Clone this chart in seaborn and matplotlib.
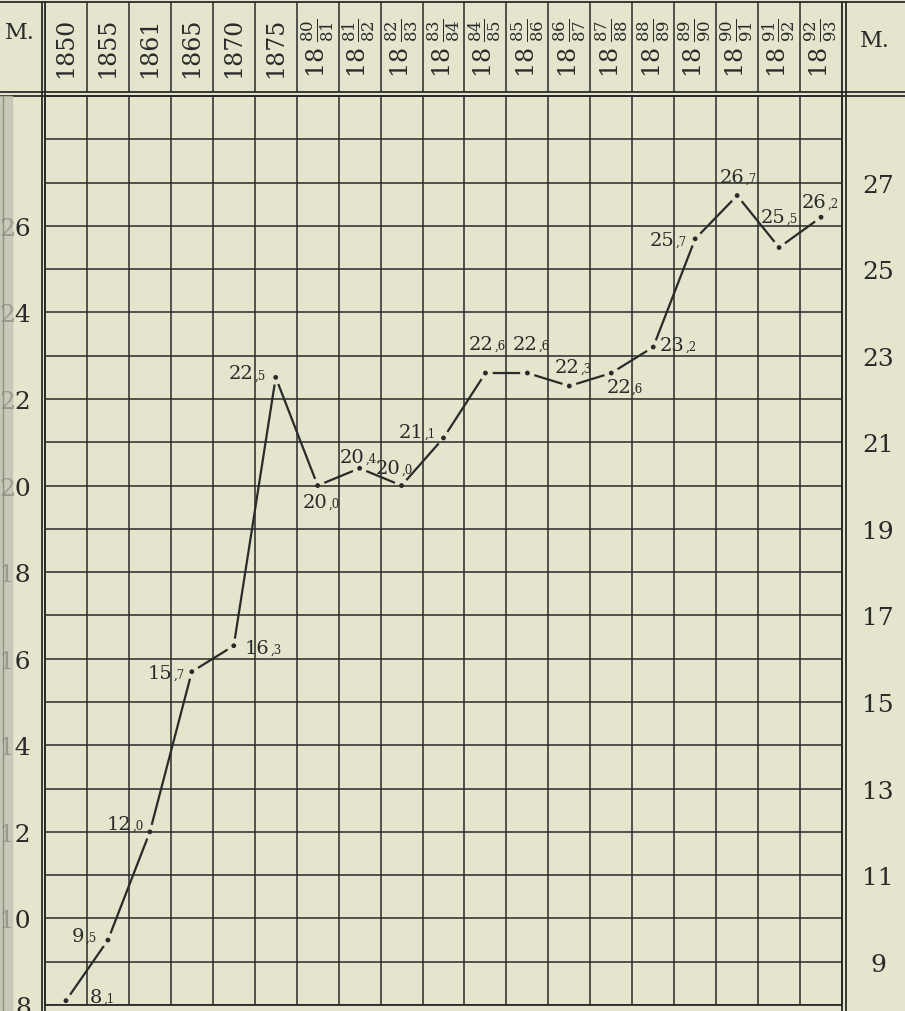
import numpy as np
import pandas as pd
import seaborn as sns
import matplotlib.pyplot as plt
from matplotlib.lines import Line2D
from matplotlib.patches import Rectangle

sns.set_style("white")
plt.rcParams["font.family"] = ["DejaVu Serif"]
plt.rcParams["mathtext.fontset"] = "dejavuserif"

# data
periods = ["1850", "1855", "1861", "1865", "1870", "1875",
           "1880/81", "1881/82", "1882/83", "1883/84", "1884/85", "1885/86",
           "1886/87", "1887/88", "1888/89", "1889/90", "1890/91", "1891/92", "1892/93"]
values = [8.1, 9.5, 12.0, 15.7, 16.3, 22.5, 20.0, 20.4, 20.0, 21.1, 22.6, 22.6,
          22.3, 22.6, 23.2, 25.7, 26.7, 25.5, 26.2]
left_ticks = [8, 10, 12, 14, 16, 18, 20, 22, 24, 26]
right_ticks = [9, 11, 13, 15, 17, 19, 21, 23, 25, 27]
unit = "M."

# where each value label sits (pixels from its point: left edge, baseline)
label_offsets = [(24, -1), (-36, -1), (-43, 3), (-44, -6), (11, -7), (-47, -1),
                 (-15, -21), (-20, 6), (-26, 13), (-45, 1), (-17, 24), (-15, 24),
                 (-15, 14), (-5, -19), (6, -3), (-45, -6), (-17, 14), (-18, 26), (-19, 10)]

W, H = 905, 1012
PAPER = "#e4e5cc"
INK = "#2a2a2a"


def fx(px):
    return px / W


def fy(py):
    return 1 - py / H


fig = plt.figure(figsize=(W / 100, H / 100), dpi=100, facecolor=PAPER)

# main grid
gx0, gx1, gy0, gy1 = 45, 842, 97, 1006
ax = fig.add_axes([fx(gx0), fy(gy1), (gx1 - gx0) / W, (gy1 - gy0) / H])
ax.set_facecolor(PAPER)

df = pd.DataFrame({"pos": np.arange(len(periods)), "value": values})
sns.lineplot(data=df, x="pos", y="value", color=INK, linewidth=1.6, ax=ax, zorder=2)
sns.scatterplot(data=df, x="pos", y="value", s=110, color=PAPER, edgecolor="none",
                ax=ax, zorder=2.2)
sns.scatterplot(data=df, x="pos", y="value", s=12, color=INK, edgecolor="none",
                ax=ax, zorder=3)

ax.set_xlim(-0.5, len(periods) - 0.5)
ax.set_ylim(8, 29)
ax.set_xticks(np.arange(-0.5, len(periods)))
ax.set_xticklabels([])
ax.set_yticks(range(8, 30))
ax.set_yticklabels([str(t) if t in left_ticks else "" for t in range(8, 30)])
ax.set_xlabel("")
ax.set_ylabel("")
ax.grid(True, color=INK, linewidth=1.1)
ax.set_axisbelow(False)
ax.tick_params(axis="x", length=0)
ax.tick_params(axis="y", length=0, pad=10, labelsize=18, labelcolor=INK)
for sp in ax.spines.values():
    sp.set_color(INK)
    sp.set_linewidth(1.3)

# right-hand scale
ax2 = ax.twinx()
ax2.set_ylim(8, 29)
ax2.set_yticks(right_ticks)
ax2.set_yticklabels([str(t) for t in right_ticks])
ax2.tick_params(axis="y", length=0, pad=26, labelsize=18, labelcolor=INK)
for lab in ax2.get_yticklabels():
    lab.set_ha("center")
ax2.grid(False)
for sp in ax2.spines.values():
    sp.set_visible(False)

# value labels, decimals set small
for i, (v, (dx, dy)) in enumerate(zip(values, label_offsets)):
    whole, frac = f"{v:.1f}".split(".")
    t = ax.annotate(whole, (i, v), xytext=(dx, dy), textcoords="offset pixels",
                    ha="left", va="baseline", fontsize=14, color=INK, zorder=4)
    ax.annotate("," + frac, xy=(1, 0), xycoords=t, xytext=(1, 1),
                textcoords="offset pixels", ha="left", va="bottom",
                fontsize=8.5, color=INK, zorder=4)

# header row with the periods
hx = fig.add_axes([fx(gx0), fy(93), (gx1 - gx0) / W, (93 - 3) / H])
hx.set_facecolor("none")
hx.set_xlim(-0.5, len(periods) - 0.5)
hx.set_ylim(0, 1)
hx.set_xticks(np.arange(-0.5, len(periods)))
hx.set_xticklabels([])
hx.set_yticks([])
hx.grid(True, axis="x", color=INK, linewidth=1.1)
hx.tick_params(length=0)
for sp in hx.spines.values():
    sp.set_visible(False)
for i, p in enumerate(periods):
    if "/" in p:
        a, b = p.split("/")
        txt = r"$18\;\frac{%s}{%s}$" % (a[2:], b)
    else:
        txt = p
    hx.text(i, 0.5, txt, rotation=90, ha="center", va="center",
            fontsize=17, color=INK)

fig.text(fx(20), fy(33), unit, ha="center", va="center", fontsize=16, color=INK)
fig.text(fx(875), fy(41), unit, ha="center", va="center", fontsize=16, color=INK)

# frame rules
for y in (3, 93, 97):
    fig.add_artist(Line2D([0, 1], [fy(y), fy(y)], transform=fig.transFigure,
                          color=INK, linewidth=1.3))
for x in (41.5, 45, 842, 846):
    fig.add_artist(Line2D([fx(x), fx(x)], [0, fy(3)], transform=fig.transFigure,
                          color=INK, linewidth=1.3))

# scan shadow at the left edge
fig.add_artist(Rectangle((0, 0), fx(12), fy(97), transform=fig.transFigure,
                         color="#bfc0b0", alpha=0.75, zorder=5))
fig.add_artist(Line2D([fx(3), fx(3)], [0, fy(97)], transform=fig.transFigure,
                      color="#8d8e84", linewidth=1.0, zorder=6))

fig.savefig("out.png", dpi=100, facecolor=PAPER)
plt.close(fig)
